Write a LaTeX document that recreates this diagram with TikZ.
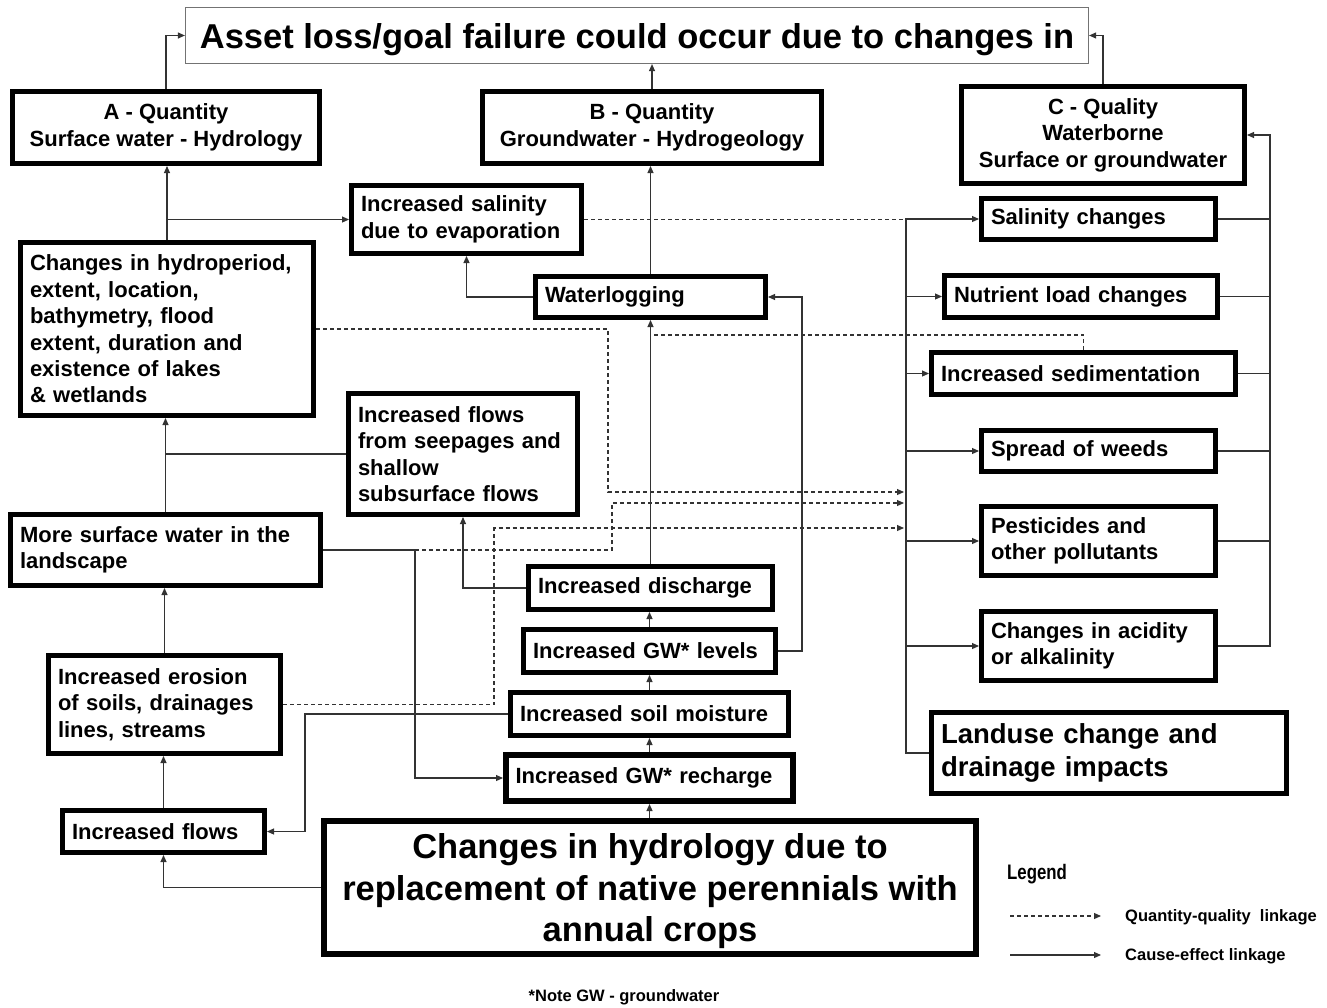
\documentclass[tikz,border=0pt]{standalone}
\usepackage{fontspec}
\usepackage{graphicx}
\setmainfont{Liberation Sans}
\usetikzlibrary{arrows.meta}
\begin{document}
\begin{tikzpicture}[x=1pt,y=-1pt,
  box/.style={draw=black, line width=5pt, fill=white, font=\fontsize{22}{26.4}\selectfont\bfseries, inner xsep=9.5pt, inner ysep=2pt},
  lbox/.style={box, align=left},
  cbox/.style={box, align=center},
  conn/.style={draw=black!80, line width=1.1pt},
  arr/.style={conn, -{Triangle[length=7pt,width=6pt]}},
  qq/.style={draw=black!80, line width=1.1pt, dash pattern=on 4pt off 3pt},
  qqarr/.style={qq, -{Triangle[length=7pt,width=6pt]}},
  small/.style={font=\fontsize{16.5}{19}\selectfont\bfseries, inner sep=0pt}
]
\useasboundingbox (0,0) rectangle (1327,1007);
\fill[white] (0,0) rectangle (1327,1007);

% ---------- nodes ----------
\node[draw=black!55, line width=1.2pt, fill=white, minimum width=903pt, minimum height=56pt, inner sep=0pt,
      text height=25pt, text depth=-4.5pt,
      font=\fontsize{34.5}{41.5}\selectfont\bfseries] (T) at (637,35.5) {Asset loss/goal failure could occur due to changes in};

\node[cbox, minimum width=307pt, minimum height=72pt] (A) at (166,127.5) {A - Quantity\\Surface water - Hydrology};
\node[cbox, minimum width=339pt, minimum height=72pt] (B) at (652,127.5) {B - Quantity\\Groundwater - Hydrogeology};
\node[cbox, minimum width=283pt, minimum height=97pt] (C) at (1103,135) {C - Quality\\Waterborne\\Surface or groundwater};

\node[lbox, minimum width=230pt, minimum height=68pt, text width=211pt] (Salin) at (466.5,219.5) {Increased salinity\\due to evaporation};
\node[lbox, minimum width=293pt, minimum height=173pt, text width=274pt] (Hydro) at (167,329) {Changes in hydroperiod,\\extent, location,\\bathymetry, flood\\extent, duration and\\existence of lakes\\\& wetlands};
\node[lbox, minimum width=230pt, minimum height=41pt, text width=211pt] (Water) at (650.5,297) {Waterlogging};
\node[lbox, minimum width=229pt, minimum height=121pt, text width=210pt] (Seep) at (463,454) {Increased flows\\from seepages and\\shallow\\subsurface flows};
\node[lbox, minimum width=310pt, minimum height=71pt, text width=291pt] (MoreSW) at (165.5,550) {More surface water in the\\landscape};
\node[lbox, minimum width=232pt, minimum height=98pt, text width=213pt] (Eros) at (164.5,704.5) {Increased erosion\\of soils, drainages\\lines, streams};
\node[lbox, minimum width=202pt, minimum height=42pt, text width=183pt] (Flows) at (163.5,831.5) {Increased flows};

\node[lbox, minimum width=244pt, minimum height=43pt, text width=225pt] (Disch) at (650.5,588) {Increased discharge};
\node[lbox, minimum width=252pt, minimum height=43pt, text width=233pt] (GWlev) at (649.5,651) {Increased GW* levels};
\node[lbox, minimum width=278pt, minimum height=43pt, text width=259pt] (Soil) at (649.5,714) {Increased soil moisture};
\node[lbox, line width=6pt, minimum width=287pt, minimum height=46pt, text width=268pt] (Rech) at (649.5,778) {Increased GW* recharge};

\node[cbox, line width=6pt, minimum width=652pt, minimum height=133pt, text depth=-3.5pt,
      font=\fontsize{34.5}{41.5}\selectfont\bfseries] (Big) at (650,887.5) {Changes in hydrology due to\\replacement of native perennials with\\annual crops};

\node[lbox, minimum width=234pt, minimum height=41pt, text width=215pt] (SalCh) at (1098.5,219) {Salinity changes};
\node[lbox, minimum width=273pt, minimum height=42pt, text width=254pt] (Nutr) at (1081,296.5) {Nutrient load changes};
\node[lbox, minimum width=304pt, minimum height=42pt, text width=285pt] (Sed) at (1083.5,373.5) {Increased sedimentation};
\node[lbox, minimum width=234pt, minimum height=41pt, text width=215pt] (Weeds) at (1098.5,451) {Spread of weeds};
\node[lbox, minimum width=234pt, minimum height=69pt, text width=215pt] (Pest) at (1098.5,541) {Pesticides and\\other pollutants};
\node[lbox, minimum width=234pt, minimum height=69pt, text width=215pt] (Acid) at (1098.5,646) {Changes in acidity\\or alkalinity};
\node[lbox, minimum width=355pt, minimum height=81pt, text width=336pt,
      font=\fontsize{27.5}{33}\selectfont\bfseries] (Land) at (1109,753) {Landuse change and\\drainage impacts};

% legend and note
\node[anchor=west, inner sep=0pt, font=\fontsize{21}{25}\selectfont\bfseries] (Leg) at (1007,874) {\scalebox{0.8}[1]{Legend}};
\coordinate (la) at (1010,916);
\coordinate (lb) at (1101,916);
\coordinate (lc) at (1010,955);
\coordinate (ld) at (1101,955);
\draw[qqarr] (la) -- (lb);
\draw[arr] (lc) -- (ld);
\node[small, anchor=west] (L1) at (1125,917) {Quantity-quality\ \ linkage};
\node[small, anchor=west] (L2) at (1125,956) {Cause-effect linkage};
\node[small] (Note) at (624,997) {*Note GW - groundwater};

% ---------- cause-effect connectors ----------
\draw[arr] (A.north) |- (T.west);
\draw[arr] (B.north) -- (B.north |- T.south);
\draw[arr] (C.north) |- (T.east);

\draw[arr] (Hydro.north) -- (Hydro.north |- A.south);
\draw[arr] (Hydro.north |- Salin.west) -- (Salin.west);
\draw[arr] (Water.north) -- (Water.north |- B.south);
\draw[arr] (Water.west) -| (Salin.south);
\draw[arr] (Disch.north) -- (Disch.north |- Water.south);
\draw[arr] (Disch.west) -| (Seep.south);
\draw[arr] (GWlev.east) -- ++(24,0) |- (Water.east);
\draw[arr] (GWlev.north) -- (GWlev.north |- Disch.south);
\draw[arr] (Soil.north) -- (Soil.north |- GWlev.south);
\draw[arr] (Rech.north) -- (Rech.north |- Soil.south);
\draw[arr] (Big.north -| Rech.north) -- (Rech.south);

\draw[arr] (MoreSW.north) -- (MoreSW.north |- Hydro.south);
\draw[conn] (Seep.west) -- (Seep.west -| MoreSW.north);
\draw[arr] (Eros.north) -- (Eros.north |- MoreSW.south);
\draw[arr] (Flows.north) -- (Flows.north |- Eros.south);
\draw[arr] (Big.west) -| (Flows.south);
\coordinate (k1) at (305,714);
\draw[arr] (Soil.west) -- (k1) |- (Flows.east);
\coordinate (k2) at (415,550);
\draw[arr] (MoreSW.east) -- (k2) |- (Rech.west);

% right bus
\coordinate (bt) at (906,219);
\coordinate (bb) at (906,753);
\draw[arr] (Land.west) -- (bb) -- (bt) -- (SalCh.west);
\foreach \n in {Nutr,Sed,Weeds,Pest,Acid}
  \draw[arr] (bt |- \n.west) -- (\n.west);
\coordinate (rt) at (1270,135);
\draw[arr] (Acid.east) -| (rt) -- (C.east);
\foreach \n in {SalCh,Nutr,Sed,Weeds,Pest}
  \draw[conn] (\n.east) -- (\n.east -| rt);

% ---------- quantity-quality connectors ----------
\draw[qq] (Salin.east) -- (Salin.east -| bt);
\coordinate (d1a) at (608,329);
\coordinate (d1b) at (608,492);
\coordinate (d1c) at (904,492);
\draw[qqarr] (Hydro.east) -- (d1a) -- (d1b) -- (d1c);
\coordinate (d2a) at (612,550);
\coordinate (d2b) at (612,503);
\coordinate (d2c) at (904,503);
\draw[qqarr] (k2) -- (d2a) -- (d2b) -- (d2c);
\coordinate (d3a) at (494,704.5);
\coordinate (d3b) at (494,528);
\coordinate (d3c) at (904,528);
\draw[qqarr] (Eros.east) -- (d3a) -- (d3b) -- (d3c);
\coordinate (d5a) at (1083.5,335);
\coordinate (d5b) at (651,335);
\draw[qq] (Sed.north) -- (d5a) -- (d5b);
\end{tikzpicture}
\end{document}
